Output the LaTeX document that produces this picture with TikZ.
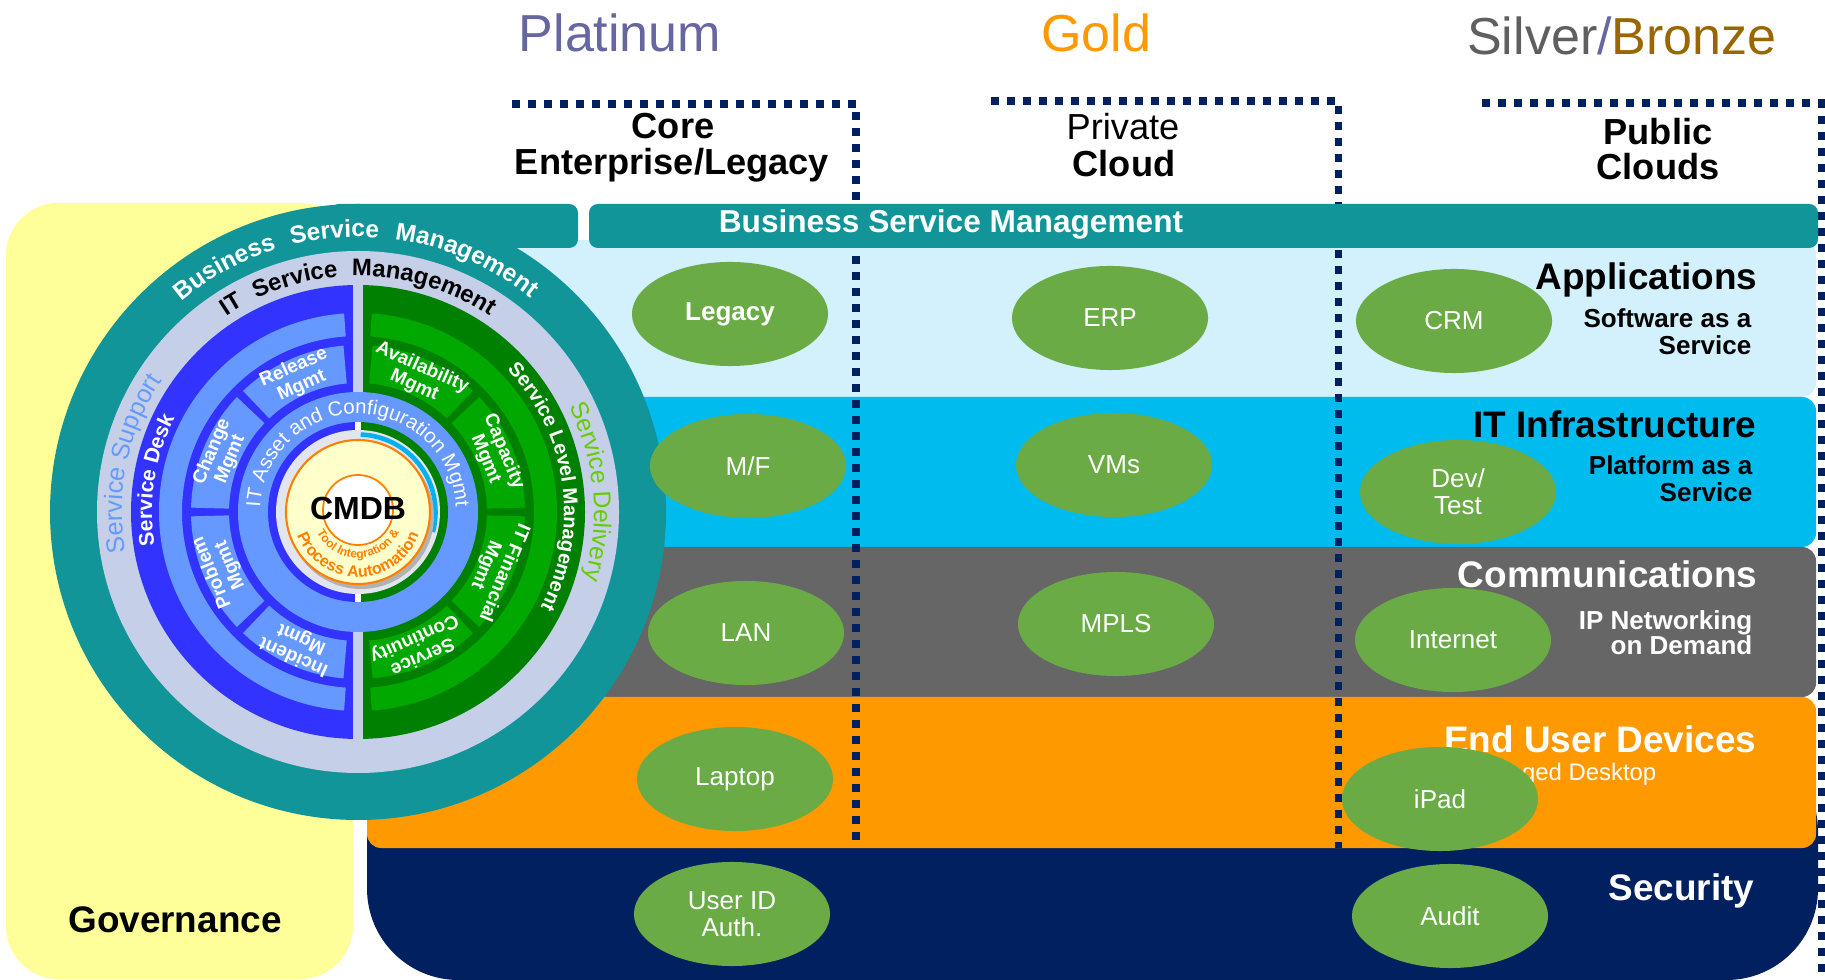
\documentclass[tikz,border=0pt]{standalone}
\usepackage{fontspec}
\setmainfont{Liberation Sans}
\usetikzlibrary{shapes.geometric,decorations.text}
\definecolor{bsmteal}{HTML}{119599}
\definecolor{govyellow}{HTML}{FFFF99}
\definecolor{appcyan}{HTML}{D2F1FC}
\definecolor{infracyan}{HTML}{00BBEE}
\definecolor{commgray}{HTML}{666666}
\definecolor{euorange}{HTML}{FF9900}
\definecolor{secnavy}{HTML}{002060}
\definecolor{nodegreen}{HTML}{6AAB45}
\definecolor{ringgray}{HTML}{C5D0E8}
\definecolor{supblue}{HTML}{3333FF}
\definecolor{suplight}{HTML}{6699FF}
\definecolor{deldark}{HTML}{008000}
\definecolor{dellight}{HTML}{00A800}
\definecolor{dellabel}{HTML}{66CC00}
\definecolor{platcol}{HTML}{6666A0}
\definecolor{goldcol}{HTML}{FF9900}
\definecolor{silvcol}{HTML}{5F5F5F}
\definecolor{bronzecol}{HTML}{996600}
\definecolor{cmdbyel}{HTML}{FFFFCC}
\definecolor{cmdborange}{HTML}{FF8000}
\definecolor{innergray}{HTML}{E2E5EE}
\definecolor{cmdbcyan}{HTML}{00B0F0}
\newcommand\fsz[2]{\fontsize{#1}{#2}\selectfont}
\begin{document}
\begin{tikzpicture}[x=0.01cm,y=0.01cm,
    tier/.style={anchor=base,font=\fsz{14.8}{17}},
    colhead/.style={anchor=base,font=\fsz{10.3}{12}\bfseries},
    bandlbl/.style={anchor=base east,inner sep=0pt,font=\fsz{10.5}{12}\bfseries},
    bandsub/.style={anchor=base east,inner sep=0pt,font=\fsz{7.4}{8.5}\bfseries},
    itnode/.style={ellipse,fill=nodegreen,text=white,minimum width=1.96cm,
      minimum height=1.04cm,inner sep=0pt,align=center,font=\fsz{7.4}{7.7}},
    mgmtbox/.style={text=white,align=center,inner sep=0pt,font=\fsz{5.4}{5.6}\bfseries},
    dotline/.style={draw=secnavy,line width=2pt,dash pattern=on 2.2pt off 2.35pt}]
  \useasboundingbox (0,0) rectangle (1825,-980);
  % governance column and service bands
  \fill[govyellow,rounded corners=15pt] (6,-203) rectangle (353,-979);
  \fill[appcyan,rounded corners=4pt] (367,-240) rectangle (1816,-397);
  \fill[infracyan,rounded corners=4pt] (367,-397) rectangle (1816,-547);
  \fill[commgray,rounded corners=4pt] (367,-547) rectangle (1816,-697);
  \fill[secnavy,rounded corners=26pt] (367,-740) rectangle (1818,-980);
  \fill[euorange,rounded corners=4pt] (367,-697) rectangle (1816,-848);
  % dotted column frames
  \draw[dotline] (512,-104) -- (856,-104) -- (856,-848);
  \draw[dotline] (991,-101) -- (1338,-101) -- (1338,-848);
  \draw[dotline] (1482,-103) -- (1821,-103) -- (1821,-980);
  % business service management bar
  \fill[bsmteal,rounded corners=2.5pt] (330,-204) rectangle (578,-248);
  \fill[bsmteal,rounded corners=2.5pt] (589,-204) rectangle (1818,-248);
  \node[anchor=base,text=white,font=\fsz{9}{10}\bfseries] (bsmbar) at (951,-233)
    {Business Service Management};

  % ITSM wheel
  \begin{scope}[shift={(358,-512)}]
    \fill[bsmteal] (0,0) circle[radius=308];
    \fill[ringgray] (0,0) circle[radius=261];
    \fill[supblue] (90:227) arc[start angle=90,end angle=270,radius=227] -- cycle;
    \fill[deldark] (-90:227) arc[start angle=-90,end angle=90,radius=227] -- cycle;
    \fill[ringgray] (-5,-228) rectangle (5,228);
    \fill[suplight] (94:199) arc[start angle=94,end angle=266,radius=199]
      -- (266:176) arc[start angle=266,end angle=94,radius=176] -- cycle;
    \fill[dellight] (-86:199) arc[start angle=-86,end angle=86,radius=199]
      -- (86:176) arc[start angle=86,end angle=-86,radius=176] -- cycle;
    \foreach \s/\e in {95/133.5,136.5/178.5,181.5/223.5,226.5/265}
      \fill[suplight] (\s:167) arc[start angle=\s,end angle=\e,radius=167]
        -- (\e:129) arc[start angle=\e,end angle=\s,radius=129] -- cycle;
    \foreach \s/\e in {-85/-46.5,-43.5/-1.5,1.5/43.5,46.5/85}
      \fill[dellight] (\s:167) arc[start angle=\s,end angle=\e,radius=167]
        -- (\e:129) arc[start angle=\e,end angle=\s,radius=129] -- cycle;
    \fill[suplight] (0,0) circle[radius=120];
    \fill[supblue] (90:90) arc[start angle=90,end angle=270,radius=90] -- cycle;
    \fill[deldark] (-90:90) arc[start angle=-90,end angle=90,radius=90] -- cycle;
    \fill[white] (-3,-90) rectangle (3,90);
    \fill[innergray] (0,0) circle[radius=82];
    \draw[cmdbcyan,line width=1.3pt] (88:77.5) arc[start angle=88,end angle=-15,radius=77.5];
    \fill[gray!60] (3,-4) circle[radius=73];
    \filldraw[fill=cmdbyel,draw=cmdborange,line width=0.6pt] (0,0) circle[radius=72];
    \filldraw[fill=white,draw=cmdborange,line width=0.5pt] (0,2) circle[radius=35];
    \node[font=\fsz{9.1}{10}\bfseries] (cmdb) at (0,4) {CMDB};
    % texts following the rings
    \path[decorate,decoration={text along path,text color=white,
        text={|\fsz{7}{8}\bfseries|Business Service Management},
        text align=fit to path stretching spaces}]
      (130:275) arc[start angle=130,end angle=51,radius=275];
    \path[decorate,decoration={text along path,text color=black,
        text={|\fsz{6.8}{7}\bfseries|IT Service Management},
        text align=fit to path stretching spaces}]
      (124:236) arc[start angle=124,end angle=56,radius=236];
    \path[decorate,decoration={text along path,text color=suplight,
        text={|\fsz{7.2}{8}|Service Support},text align=center}]
      (196:236) arc[start angle=196,end angle=140,radius=236];
    \path[decorate,decoration={text along path,text color=dellabel,
        text={|\fsz{7}{8}|Service Delivery},text align=center}]
      (33:236) arc[start angle=33,end angle=-23,radius=236];
    \path[decorate,decoration={text along path,text color=white,
        text={|\fsz{6}{7}\bfseries|Service Desk},text align=center}]
      (196:206) arc[start angle=196,end angle=146,radius=206];
    \path[decorate,decoration={text along path,text color=white,
        text={|\fsz{5.7}{7}\bfseries|Service Level Management},text align=center}]
      (48:206) arc[start angle=48,end angle=-32,radius=206];
    \path[decorate,decoration={text along path,text color=white,
        text={|\fsz{5.8}{6}|IT Asset and Configuration Mgmt},text align=center}]
      (182:98) arc[start angle=182,end angle=-2,radius=98];
    \path[decorate,decoration={text along path,text color=cmdborange,
        text={|\fsz{3.4}{4}\bfseries|Tool Integration {\&}},text align=center}]
      (200:46) arc[start angle=200,end angle=340,radius=46];
    \path[decorate,decoration={text along path,text color=cmdborange,
        text={|\fsz{4.6}{5}\bfseries|Process Automation},text align=center}]
      (190:65) arc[start angle=190,end angle=350,radius=65];
    % process boxes
    \foreach \a/\t [count=\i] in {114/{Release\\Mgmt},157.5/{Change\\Mgmt},
        202.5/{Problem\\Mgmt},246/{Incident\\Mgmt},66/{Availability\\Mgmt},
        22.5/{Capacity\\Mgmt},-22.5/{IT Financial\\Mgmt},-66/{Service\\Continuity}}
      \node[mgmtbox,rotate=\a-90] (mgmt\i) at (\a:148) {\t};
  \end{scope}

  % service tiers and columns
  \node[tier,text=platcol] (platinum) at (620,-52) {Platinum};
  \node[tier,text=goldcol] (gold) at (1096,-52) {Gold};
  \node[tier] (silver) at (1622,-55)
    {\textcolor{silvcol}{Silver}\textcolor{platcol}{/}\textcolor{bronzecol}{Bronze}};
  \node[colhead] (core) at (673,-139) {Core};
  \node[colhead] (enterprise) at (672,-175) {Enterprise/Legacy};
  \node[colhead,font=\fsz{10.3}{12}] (private) at (1123,-140) {Private};
  \node[colhead] (cloud) at (1124,-177) {Cloud};
  \node[colhead] (public) at (1658,-145) {Public};
  \node[colhead] (clouds) at (1658,-180) {Clouds};

  % band labels
  \node[bandlbl] (apps) at (1758,-290) {Applications};
  \node[bandsub] (saas1) at (1752,-328) {Software as a};
  \node[bandsub] (saas2) at (1752,-355) {Service};
  \node[bandlbl] (infra) at (1757,-438) {IT Infrastructure};
  \node[bandsub] (paas1) at (1753,-475) {Platform as a};
  \node[bandsub] (paas2) at (1753,-502) {Service};
  \node[bandlbl,text=white] (comms) at (1758,-588) {Communications};
  \node[bandsub,text=white] (ipnet1) at (1753,-630) {IP Networking};
  \node[bandsub,text=white] (ipnet2) at (1753,-655) {on Demand};
  \node[bandlbl,text=white] (eud) at (1757,-752) {End User Devices};
  \node[bandsub,text=white,font=\fsz{6.8}{8}] (desktop) at (1657,-780) {Managed Desktop};
  \node[bandlbl,text=white] (security) at (1755,-900) {Security};
  \node[bandlbl,anchor=base] (governance) at (175,-932) {Governance};

  % components
  \node[itnode,font=\fsz{7.4}{7.7}\bfseries] (legacy) at (730,-314) {Legacy};
  \node[itnode] (mf) at (748,-466) {M/F};
  \node[itnode] (lan) at (746,-633) {LAN};
  \node[itnode] (laptop) at (735,-779) {Laptop};
  \node[itnode] (userid) at (732,-914) {User ID\\Auth.};
  \node[itnode] (erp) at (1110,-318) {ERP};
  \node[itnode] (vms) at (1114,-465) {VMs};
  \node[itnode] (mpls) at (1116,-624) {MPLS};
  \node[itnode] (crm) at (1454,-321) {CRM};
  \node[itnode] (devtest) at (1458,-492) {Dev/\\Test};
  \node[itnode] (internet) at (1453,-640) {Internet};
  \node[itnode] (ipad) at (1440,-799) {iPad};
  \node[itnode] (audit) at (1450,-916) {Audit};
\end{tikzpicture}
\end{document}
